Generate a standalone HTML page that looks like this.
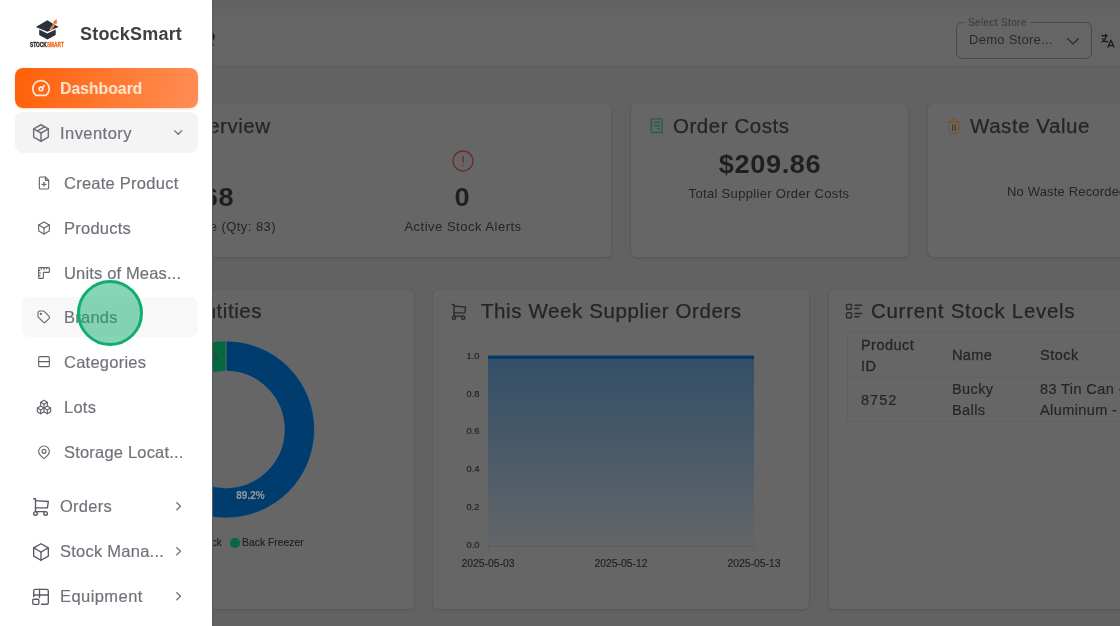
<!DOCTYPE html>
<html><head><meta charset="utf-8">
<style>
*{box-sizing:border-box;margin:0;padding:0}
html,body{width:1120px;height:626px;overflow:hidden;background:#626262;font-family:"Liberation Sans",sans-serif;}
.abs{position:absolute}
#main{position:absolute;left:0;top:0;width:1120px;height:626px;background:#626262;overflow:hidden}
#hdr{position:absolute;left:0;top:0;width:1120px;height:67px;background:#656565;border-bottom:1px solid #5f5f5f}
.card{position:absolute;background:#666666;border-radius:5px;box-shadow:0 1px 3px rgba(0,0,0,.13),0 0 1px rgba(0,0,0,.1)}
.t{position:absolute;white-space:nowrap;line-height:1}
.dk{color:#1f1f21}
.md{color:#252528}
.ttl{-webkit-text-stroke:.25px #252528}
#side{position:absolute;left:0;top:0;width:211.5px;height:626px;background:#fff;box-shadow:1px 0 0 #5b5b5b}
.nav{position:absolute;left:60px;font-size:16.5px;color:#71717a;white-space:nowrap;line-height:1;letter-spacing:.25px;-webkit-text-stroke:.18px #71717a}
.sub{position:absolute;left:64px;font-size:16.5px;color:#71717a;white-space:nowrap;line-height:1;letter-spacing:.25px;-webkit-text-stroke:.18px #71717a}
svg{position:absolute;overflow:visible}
.t,.nav,.sub,svg{will-change:transform}
</style></head><body>
<div id="main">
  <div id="hdr"></div><div class="abs" style="left:0;top:0;width:1120px;height:14px;background:#636363"></div>

  <!-- header controls -->
  <svg style="left:208px;top:28px" width="12" height="22" viewBox="208 28 12 22" fill="none"><path d="M212.500 33.400q2.900 3.300 0 6.600" stroke="#1f1f21" stroke-width="1.700" stroke-linecap="round"/><circle cx="213.100" cy="44.800" r=".95" fill="#1f1f21"/></svg>
  <div class="abs" style="left:956px;top:22px;width:136px;height:37px;border:1px solid #494949;border-radius:6px"></div>
  <div class="t" id="sellbl" style="left:963.5px;top:17.7px;padding:0 4px;background:#656565;font-size:10px;color:#39393b;letter-spacing:.35px">Select Store</div>
  <div class="t" id="selval" style="left:968.6px;top:33.2px;font-size:13px;color:#2a2a2c;letter-spacing:.27px">Demo Store...</div>
  <svg style="left:1067px;top:37.5px" width="12" height="7" viewBox="0 0 12 7" fill="none" stroke="#2c2c2e" stroke-width="1.3" stroke-linecap="round" stroke-linejoin="round"><path d="M0.800 0.800L6 6L11.200 0.800"/></svg>
  <!-- translate icon -->
  <svg style="left:1098.5px;top:31.5px" width="18" height="18" viewBox="0 0 24 24" fill="none" stroke="#1f1f21" stroke-width="1.900" stroke-linecap="round" stroke-linejoin="round"><path d="M4 5h7"/><path d="M9 3v2c0 4.418 -2.239 8 -5 8"/><path d="M5 9c0 2.144 2.952 3.908 6.700 4"/><path d="M12 20l4 -9l4 9"/><path d="M19.100 18h-6.200"/></svg>

  <!-- row 1 cards -->
  <div class="card" style="left:150px;top:103.5px;width:461px;height:153px"></div>
  <div class="t md ttl" id="ov" style="right:849.5px;top:115.5px;font-size:20.5px;letter-spacing:.5px">Overview</div>
  <div class="t dk" id="v68" style="right:886.300px;top:184.900px;font-size:25.500px;font-weight:700;letter-spacing:.6px;transform:scaleX(1.065);transform-origin:100% 50%">$668</div>
  <div class="t md" id="qty" style="right:843.5px;top:220px;font-size:13px;letter-spacing:.45px">Stock Value (Qty: 83)</div>
  <svg style="left:451.2px;top:149px" width="24" height="24" viewBox="0 0 24 24" fill="none" stroke="#6c2c30" stroke-width="1.350" stroke-linecap="round" stroke-linejoin="round"><circle cx="12" cy="12" r="10"/><path d="M12 7.500v5.500"/><path d="M12 16.300v.1"/></svg>
  <div class="t dk" id="zero" style="left:412.300px;width:100px;text-align:center;top:184.900px;transform:scaleX(1.065);font-size:25.500px;font-weight:700">0</div>
  <div class="t md" id="asa" style="left:363px;width:200px;text-align:center;top:220px;font-size:13px;letter-spacing:.5px">Active Stock Alerts</div>

  <div class="card" style="left:631px;top:103.5px;width:277px;height:153px"></div>
  <svg style="left:646px;top:114px" width="24" height="24" viewBox="646 114 24 24" fill="none" stroke="#2d5c45" stroke-width="1.4" stroke-linejoin="round" stroke-linecap="round"><path d="M651.3 119.6a.7.700 0 0 1 .7-.7h9.500a.7.700 0 0 1 .7.700v13.400l-1.550-1 -1.550 1 -1.550-1 -1.550 1 -1.550-1 -1.550 1 -1.600-1z" fill="#3b7a5a" fill-opacity=".16"/><path d="M654.200 122.200h5.300M654.200 125.500h5.300M657.800 128.700h1.700" stroke-width="1.400"/></svg>
  <div class="t md ttl" id="oc" style="left:673px;top:115.5px;font-size:20.5px;letter-spacing:.55px">Order Costs</div>
  <div class="t dk" id="amt" style="left:669.8px;width:200px;text-align:center;top:151.900px;font-size:25.500px;font-weight:700;letter-spacing:.6px;transform:scaleX(1.065)">$209.86</div>
  <div class="t md" id="tsoc" style="left:649px;width:240px;text-align:center;top:187px;font-size:13px;letter-spacing:.32px">Total Supplier Order Costs</div>

  <div class="card" style="left:928px;top:103.5px;width:240px;height:153px"></div>
  <svg style="left:942px;top:114px" width="24" height="24" viewBox="942 114 24 24" fill="none" stroke="#76573b" stroke-width="1.400" stroke-linejoin="round" stroke-linecap="round"><path d="M948.700 122l.9 9.800a1.700 1.700 0 0 0 1.700 1.500h5.400a1.700 1.700 0 0 0 1.700-1.500l.9-9.800z" fill="#9a6a3c" fill-opacity=".12"/><path d="M947.900 122h12.200"/><path d="M951.600 121.800v-1.700a1.200 1.200 0 0 1 1.200-1.200h2.400a1.200 1.200 0 0 1 1.200 1.200v1.700" fill="#9a6a3c" fill-opacity=".15"/><path d="M952.700 125v5.300M955.300 125v5.300" stroke="#4e3b2b" stroke-width="1.300"/></svg>
  <div class="t md ttl" id="wv" style="left:970px;top:115.5px;font-size:20.5px;letter-spacing:.55px">Waste Value</div>
  <div class="t md" id="nwr" style="left:1007.3px;top:184.7px;font-size:13px;letter-spacing:.17px">No Waste Recorded</div>

  <!-- row 2 cards -->
  <div class="card" style="left:150px;top:289.5px;width:264px;height:319.5px"></div>
  <div class="t md ttl" id="sq" style="right:857.5px;top:300.5px;font-size:20.5px;letter-spacing:.55px">Stock Quantities</div>
  <svg style="left:126px;top:330px" width="200" height="200" viewBox="126 330 200 200">
    <circle cx="226" cy="429.500" r="73.500" fill="none" stroke="#003c6e" stroke-width="30"/>
    <path d="M226 341 A88.500 88.500 0 0 0 170 361 L189 384 A58.500 58.500 0 0 1 226 371 Z" fill="#07673f"/>
    <line x1="226" y1="340" x2="226" y2="372" stroke="#5f6a66" stroke-width="1"/><circle cx="226" cy="429.500" r="88.500" fill="none" stroke="#5d7288" stroke-width="1" opacity=".55"/><circle cx="226" cy="429.500" r="58.500" fill="none" stroke="#5d7288" stroke-width="1" opacity=".55"/>
    <text x="251.200" y="499.800" text-anchor="middle" font-family="Liberation Sans" font-weight="700" font-size="10" fill="#00182e" opacity=".55">89.2%</text><text x="250.500" y="499" text-anchor="middle" font-family="Liberation Sans" font-weight="700" font-size="10" fill="#8994a2" stroke="#8994a2" stroke-width=".25">89.2%</text>
    <text x="203.5" y="360.3" text-anchor="middle" font-family="Liberation Sans" font-weight="700" font-size="10" fill="#24493a">10.8%</text>
  </svg>
  <div class="abs" style="left:230px;top:538px;width:10px;height:10px;border-radius:50%;background:#07673f"></div>
  <div class="t" id="bf" style="left:241.8px;top:537.5px;font-size:10.4px;color:#202022;-webkit-text-stroke:.15px #202022">Back Freezer</div>
  <div class="t" id="rk" style="right:898px;top:537.5px;font-size:10.4px;color:#202022;-webkit-text-stroke:.15px #202022">Front Rack</div>

  <div class="card" style="left:433px;top:289.5px;width:376px;height:319.5px"></div>
  <svg style="left:449px;top:302px" width="20" height="20" viewBox="0 0 24 24" fill="none" stroke="#2b2b2d" stroke-width="1.600" stroke-linecap="round" stroke-linejoin="round"><path d="M6 19m-2 0a2 2 0 1 0 4 0a2 2 0 1 0 -4 0"/><path d="M17 19m-2 0a2 2 0 1 0 4 0a2 2 0 1 0 -4 0"/><path d="M17 17h-11v-14h-2"/><path d="M6 5l14 1l-1 7h-13"/></svg>
  <div class="t md ttl" id="tw" style="left:480.5px;top:300.5px;font-size:20.5px;letter-spacing:.6px">This Week Supplier Orders</div>
  <svg style="left:440px;top:340px" width="360" height="240" viewBox="440 340 360 240">
    <defs><linearGradient id="ag" x1="0" y1="0" x2="0" y2="1"><stop offset="0" stop-color="#324f68"/><stop offset="1" stop-color="#636568"/></linearGradient></defs>
    <rect x="488" y="358" width="266" height="188" fill="url(#ag)"/>
    <rect x="488" y="355.6" width="266" height="3.2" fill="#003866"/>
    <line x1="488" y1="546.200" x2="754" y2="546.200" stroke="#5c5c5c" stroke-width="1"/><path d="M488.5 546v5M621.5 546v5M754.5 546v5" stroke="#5d5d5d" stroke-width="1"/>
    <g font-family="Liberation Sans" font-size="9.4" fill="#222224" stroke="#222224" stroke-width=".15" text-anchor="end">
      <text x="479.500" y="358.9">1.0</text><text x="479.500" y="396.7">0.8</text><text x="479.500" y="434.4">0.6</text><text x="479.500" y="472.2">0.4</text><text x="479.500" y="509.9">0.2</text><text x="479.500" y="547.7">0.0</text>
    </g>
    <g font-family="Liberation Sans" font-size="10.4" fill="#222224" stroke="#222224" stroke-width=".15" text-anchor="middle">
      <text x="488" y="567">2025-05-03</text><text x="621" y="567">2025-05-12</text><text x="754" y="567">2025-05-13</text>
    </g>
  </svg>

  <div class="card" style="left:829px;top:289.5px;width:330px;height:319.5px"></div>
  <svg style="left:844px;top:301px" width="20" height="20" viewBox="0 0 24 24" fill="none" stroke="#2b2b2d" stroke-width="1.700" stroke-linecap="round" stroke-linejoin="round"><path d="M13 5h8"/><path d="M13 9h5"/><path d="M13 15h8"/><path d="M13 19h5"/><path d="M3 4m0 1a1 1 0 0 1 1 -1h4a1 1 0 0 1 1 1v4a1 1 0 0 1 -1 1h-4a1 1 0 0 1 -1 -1z"/><path d="M3 14m0 1a1 1 0 0 1 1 -1h4a1 1 0 0 1 1 1v4a1 1 0 0 1 -1 1h-4a1 1 0 0 1 -1 -1z"/></svg>
  <div class="t md ttl" id="csl" style="left:871px;top:300.5px;font-size:20.5px;letter-spacing:.7px">Current Stock Levels</div>
  <div class="abs" style="left:847px;top:332px;width:300px;height:90px;border:1px solid #606060;border-right:none"></div>
  <div class="abs" style="left:847px;top:377px;width:300px;height:1px;background:#606060"></div>
  <div class="t md" id="pid" style="left:861px;top:334.5px;font-size:14.500px;line-height:21px;letter-spacing:.45px;-webkit-text-stroke:.3px #29292c">Product<br>ID</div>
  <div class="t md" id="nm" style="left:952px;top:347.5px;font-size:14.500px;letter-spacing:.4px;-webkit-text-stroke:.3px #29292c">Name</div>
  <div class="t md" id="stk" style="left:1040px;top:347.5px;font-size:14.500px;letter-spacing:.5px;-webkit-text-stroke:.3px #29292c">Stock</div>
  <div class="t md" id="c8752" style="left:861px;top:392.5px;font-size:14.500px;letter-spacing:1px;-webkit-text-stroke:.15px #252528">8752</div>
  <div class="t md" id="bb" style="left:952px;top:379px;font-size:14.500px;line-height:21px;letter-spacing:.4px;-webkit-text-stroke:.15px #252528">Bucky<br>Balls</div>
  <div class="t md" id="tin" style="left:1040px;top:379px;font-size:14.500px;line-height:21px;letter-spacing:.4px;-webkit-text-stroke:.15px #252528">83 Tin Can -<br>Aluminum -</div>

</div>
<div id="side">

  <!-- logo -->
  <svg style="left:22px;top:10px" width="50" height="44" viewBox="22 10 50 44">
    <polygon points="35.8,27 47.3,20.3 58.6,27 47.3,31.8" fill="#2b303b"/>
    <polygon points="39.2,29.6 47.3,33.4 55.7,29.6 55.7,35 47.3,39.4 39.2,35" fill="#2b303b"/>
    <polygon points="49.8,29.4 54,22.9 52.6,22.2 56.7,18.8 57.2,24.2 55.7,23.6 51.2,30.4" fill="#f26a21" stroke="#fff" stroke-width=".4"/>
    <text x="30" y="46.9" font-family="Liberation Sans" font-weight="700" font-size="6.4" fill="#232323" stroke="#232323" stroke-width=".3" textLength="16.8" lengthAdjust="spacingAndGlyphs">STOCK</text>
    <text x="46.9" y="46.9" font-family="Liberation Sans" font-weight="700" font-size="6.4" fill="#f26a21" stroke="#f26a21" stroke-width=".3" textLength="17" lengthAdjust="spacingAndGlyphs">SMART</text>
  </svg>
  <div class="t" id="brand" style="left:80px;top:25px;font-size:18px;font-weight:700;color:#3f3f46;letter-spacing:.2px">StockSmart</div>

  <!-- Dashboard -->
  <div class="abs" style="left:15px;top:68px;width:183px;height:40px;border-radius:8px;background:linear-gradient(100deg,#ff5f08 0%,#ff7a33 55%,#ff8d55 100%);box-shadow:0 1px 2px rgba(255,110,30,.25)"></div>
  <svg style="left:30px;top:77px" width="22" height="22" viewBox="0 0 24 24" fill="none" stroke="#ffe9d6" stroke-width="1.85" stroke-linecap="round" stroke-linejoin="round"><path d="M12 13m-2 0a2 2 0 1 0 4 0a2 2 0 1 0 -4 0"/><path d="M13.45 11.55l2.05 -2.05"/><path d="M6.4 20a9 9 0 1 1 11.2 0z"/></svg>
  <div class="t" id="dash" style="left:60px;top:80px;font-size:16.5px;font-weight:700;color:#ffe9d6;transform:scaleX(.955);transform-origin:0 0">Dashboard</div>

  <!-- Inventory -->
  <div class="abs" style="left:15px;top:112.3px;width:183px;height:40.5px;border-radius:8px;background:#f4f4f5"></div>
  <svg style="left:30px;top:122px" width="22" height="22" viewBox="0 0 24 24" fill="none" stroke="#71717a" stroke-width="1.6" stroke-linecap="round" stroke-linejoin="round"><path d="M12 3l8 4.5l0 9l-8 4.5l-8 -4.5l0 -9l8 -4.5"/><path d="M12 12l8 -4.5"/><path d="M12 12l0 9"/><path d="M12 12l-8 -4.5"/><path d="M16 5.25l-8 4.5"/></svg>
  <div class="nav" id="inv" style="top:125px;letter-spacing:.45px">Inventory</div>
  <svg style="left:174px;top:130px" width="8.4" height="5" viewBox="0 0 8.4 5" fill="none" stroke="#71717a" stroke-width="1.3" stroke-linecap="round" stroke-linejoin="round"><path d="M0.6 0.6L4.2 4.2L7.8 0.6"/></svg>

  <!-- sub items -->
  <div class="abs" style="left:22px;top:297px;width:176px;height:40px;border-radius:8px;background:#f8f8f9"></div>

  <svg style="left:36px;top:175px" width="16" height="16" viewBox="0 0 24 24" fill="none" stroke="#62626b" stroke-width="1.65" stroke-linecap="round" stroke-linejoin="round"><path d="M14 3v4a1 1 0 0 0 1 1h4"/><path d="M17 21h-10a2 2 0 0 1 -2 -2v-14a2 2 0 0 1 2 -2h7l5 5v11a2 2 0 0 1 -2 2z"/><path d="M12 11l0 6"/><path d="M9 14l6 0"/></svg>
  <div class="sub" id="s1" style="top:175px">Create Product</div>

  <svg style="left:36px;top:220px" width="16" height="16" viewBox="0 0 24 24" fill="none" stroke="#62626b" stroke-width="1.65" stroke-linecap="round" stroke-linejoin="round"><path d="M12 3l8 4.5l0 9l-8 4.5l-8 -4.5l0 -9l8 -4.5"/><path d="M12 12l8 -4.5"/><path d="M12 12l0 9"/><path d="M12 12l-8 -4.5"/></svg>
  <div class="sub" id="s2" style="top:220px">Products</div>

  <svg style="left:36px;top:265px" width="16" height="16" viewBox="0 0 24 24" fill="none" stroke="#62626b" stroke-width="1.65" stroke-linecap="round" stroke-linejoin="round"><path d="M5 4h14a1 1 0 0 1 1 1v5a1 1 0 0 1 -1 1h-7a1 1 0 0 0 -1 1v7a1 1 0 0 1 -1 1h-5a1 1 0 0 1 -1 -1v-14a1 1 0 0 1 1 -1"/><path d="M4 8l2 0"/><path d="M4 12l3 0"/><path d="M4 16l2 0"/><path d="M8 4l0 2"/><path d="M12 4l0 3"/><path d="M16 4l0 2"/></svg>
  <div class="sub" id="s3" style="top:265px;letter-spacing:.16px">Units of Meas...</div>

  <svg style="left:36.200px;top:309.300px" width="15.500" height="15.500" viewBox="0 0 24 24" fill="none" stroke="#62626b" stroke-width="1.65" stroke-linecap="round" stroke-linejoin="round"><path d="M7.5 7.5m-1 0a1 1 0 1 0 2 0a1 1 0 1 0 -2 0"/><path d="M3 6v5.172a2 2 0 0 0 .586 1.414l7.71 7.71a2.41 2.41 0 0 0 3.408 0l5.592 -5.592a2.41 2.41 0 0 0 0 -3.408l-7.71 -7.71a2 2 0 0 0 -1.414 -.586h-5.172a3 3 0 0 0 -3 3z"/></svg>
  <div class="sub" id="s4" style="top:309px">Brands</div>

  <svg style="left:36px;top:354px" width="16" height="16" viewBox="0 0 24 24" fill="none" stroke="#62626b" stroke-width="1.65" stroke-linecap="round" stroke-linejoin="round"><path d="M4 5.5a1.5 1.5 0 0 1 1.500 -1.500h13a1.500 1.500 0 0 1 1.500 1.500v12a1.500 1.500 0 0 1 -1.500 1.500h-13a1.500 1.500 0 0 1 -1.500 -1.500z"/><path d="M4 11.500l16 0"/></svg>
  <div class="sub" id="s5" style="top:354px">Categories</div>

  <svg style="left:36px;top:399px" width="16" height="16" viewBox="0 0 24 24" fill="none" stroke="#62626b" stroke-width="1.65" stroke-linecap="round" stroke-linejoin="round"><path d="M7 16.500l-5 -3l5 -3l5 3v5.500l-5 3z"/><path d="M2 13.500v5.500l5 3"/><path d="M7 16.545l5 -3.030"/><path d="M17 16.500l-5 -3l5 -3l5 3v5.500l-5 3z"/><path d="M12 19l5 3"/><path d="M17 16.500l5 -3"/><path d="M12 13.500v-5.500l-5 -3l5 -3l5 3v5.500"/><path d="M7 5.030v5.455"/><path d="M12 8l5 -3"/></svg>
  <div class="sub" id="s6" style="top:399px">Lots</div>

  <svg style="left:36px;top:444px" width="16" height="16" viewBox="0 0 24 24" fill="none" stroke="#62626b" stroke-width="1.65" stroke-linecap="round" stroke-linejoin="round"><path d="M9 11a3 3 0 1 0 6 0a3 3 0 0 0 -6 0"/><path d="M17.657 16.657l-4.243 4.243a2 2 0 0 1 -2.827 0l-4.244 -4.243a8 8 0 1 1 11.314 0z"/></svg>
  <div class="sub" id="s7" style="top:444px;letter-spacing:.19px">Storage Locat...</div>

  <!-- main items -->
  <svg style="left:30px;top:495.500px" width="22" height="22" viewBox="0 0 24 24" fill="none" stroke="#5a5a63" stroke-width="1.5" stroke-linecap="round" stroke-linejoin="round"><path d="M6 19m-2 0a2 2 0 1 0 4 0a2 2 0 1 0 -4 0"/><path d="M17 19m-2 0a2 2 0 1 0 4 0a2 2 0 1 0 -4 0"/><path d="M17 17h-11v-14h-2"/><path d="M6 5l14 1l-1 7h-13"/></svg>
  <div class="nav" id="n1" style="top:498px">Orders</div>
  <svg class="chev" style="left:175.500px;top:502.300px" width="5.500" height="8.400" viewBox="0 0 5.500 8.400" fill="none" stroke="#71717a" stroke-width="1.3" stroke-linecap="round" stroke-linejoin="round"><path d="M0.800 0.700L4.500 4.200L0.800 7.700"/></svg>

  <svg style="left:30px;top:540.500px" width="22" height="22" viewBox="0 0 24 24" fill="none" stroke="#5a5a63" stroke-width="1.5" stroke-linecap="round" stroke-linejoin="round"><path d="M12 3l8 4.500l0 9l-8 4.500l-8 -4.500l0 -9l8 -4.500"/><path d="M12 12l8 -4.500"/><path d="M12 12l0 9"/><path d="M12 12l-8 -4.500"/></svg>
  <div class="nav" id="n2" style="top:543px">Stock Mana...</div>
  <svg class="chev" style="left:175.500px;top:547.300px" width="5.500" height="8.400" viewBox="0 0 5.500 8.400" fill="none" stroke="#71717a" stroke-width="1.3" stroke-linecap="round" stroke-linejoin="round"><path d="M0.800 0.700L4.500 4.200L0.800 7.700"/></svg>

  <svg style="left:32px;top:588px" width="18" height="18" viewBox="0 0 18 18" fill="none" stroke="#5a5a63" stroke-width="1.35" stroke-linecap="round" stroke-linejoin="round"><path d="M1.700 8.500v-5.600a1.500 1.500 0 0 1 1.500 -1.500h11.600a1.500 1.500 0 0 1 1.500 1.500v11.800a1.500 1.500 0 0 1 -1.500 1.500h-5.300"/><path d="M1.700 7h14.600"/><path d="M7.500 1.400v8.200"/><path d="M0.800 12a0.800 0.800 0 0 1 0.800 -0.800h4.400a0.800 0.800 0 0 1 0.800 0.800v3.600a0.800 0.800 0 0 1 -0.800 0.800h-4.400a0.800 0.800 0 0 1 -0.800 -0.800z"/></svg>
  <div class="nav" id="n3" style="top:588px;letter-spacing:.43px">Equipment</div>
  <svg class="chev" style="left:175.500px;top:592.300px" width="5.500" height="8.400" viewBox="0 0 5.500 8.400" fill="none" stroke="#71717a" stroke-width="1.3" stroke-linecap="round" stroke-linejoin="round"><path d="M0.800 0.700L4.500 4.200L0.800 7.700"/></svg>

  <!-- cursor highlight -->
  <div class="abs" style="left:77px;top:280px;width:66px;height:66px;border-radius:50%;background:rgba(16,172,112,.50);border:3.500px solid #10ad70"></div>

</div>
</body></html>
